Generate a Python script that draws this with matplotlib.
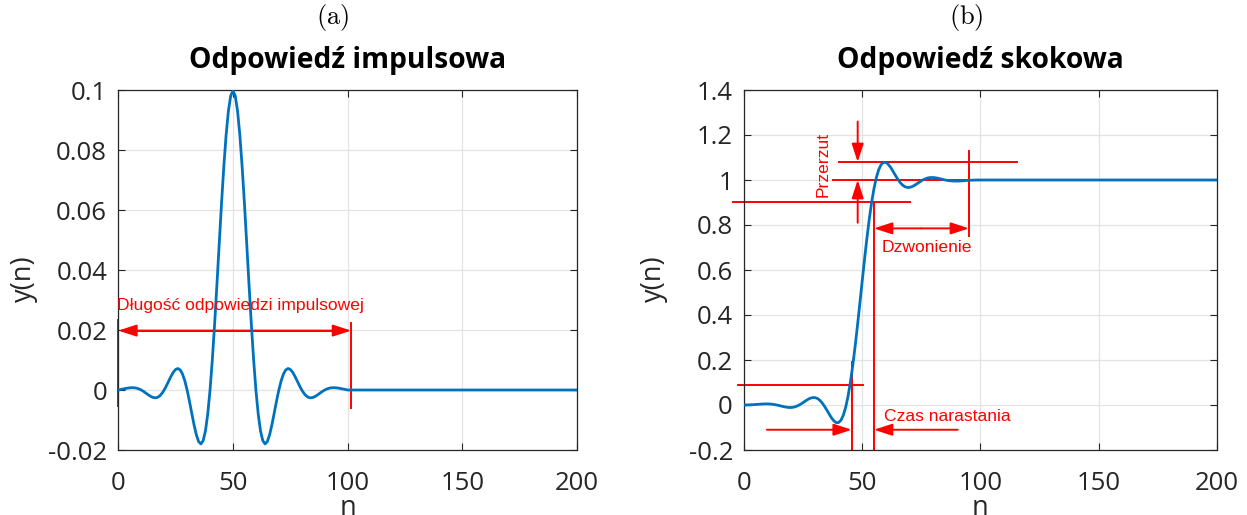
import matplotlib
matplotlib.use('Agg')
import matplotlib.pyplot as plt

# ---------------- data ----------------
n_vals = list(range(101)) + [200]

h_vals = [0, 0.00016, 0.00033, 0.00048, 0.00062, 0.00072, 0.00077, 0.00074, 0.00061, 0.00036,
          0, -0.00047, -0.00101, -0.00156, -0.00207, -0.00245, -0.00261, -0.00248, -0.00201, -0.00117,
          0, 0.00144, 0.00303, 0.00459, 0.00594, 0.00686, 0.00716, 0.00668, 0.00531, 0.00306,
          0, -0.00366, -0.00763, -0.01151, -0.01485, -0.01716, -0.01797, -0.01689, -0.01362, -0.00798,
          0, 0.01012, 0.02200, 0.03509, 0.04871, 0.06208, 0.07441, 0.08493, 0.09298, 0.09803,
          0.09976,
          0.09803, 0.09298, 0.08493, 0.07441, 0.06208, 0.04871, 0.03509, 0.02200, 0.01012, 0,
          -0.00798, -0.01362, -0.01689, -0.01797, -0.01716, -0.01485, -0.01151, -0.00763, -0.00366, 0,
          0.00306, 0.00531, 0.00668, 0.00716, 0.00686, 0.00594, 0.00459, 0.00303, 0.00144, 0,
          -0.00117, -0.00201, -0.00248, -0.00261, -0.00245, -0.00207, -0.00156, -0.00101, -0.00047, 0,
          0.00036, 0.00061, 0.00074, 0.00077, 0.00072, 0.00062, 0.00048, 0.00033, 0.00016, 0,
          0.0]

s_vals = [0, 0.00016, 0.00049, 0.00097, 0.00159, 0.00231, 0.00308, 0.00382, 0.00443, 0.00479,
          0.00479, 0.00432, 0.00331, 0.00175, -0.00032, -0.00277, -0.00538, -0.00786, -0.00987, -0.01104,
          -0.01104, -0.00960, -0.00657, -0.00198, 0.00396, 0.01082, 0.01798, 0.02466, 0.02997, 0.03303,
          0.03303, 0.02937, 0.02174, 0.01023, -0.00462, -0.02178, -0.03975, -0.05664, -0.07026, -0.07824,
          -0.07824, -0.06812, -0.04612, -0.01103, 0.03768, 0.09976, 0.17417, 0.25910, 0.35208, 0.45011,
          0.54987, 0.64790, 0.74088, 0.82581, 0.90022, 0.96230, 1.01101, 1.04610, 1.06810, 1.07822,
          1.07822, 1.07024, 1.05662, 1.03973, 1.02176, 1.00460, 0.98975, 0.97824, 0.97061, 0.96695,
          0.96695, 0.97001, 0.97532, 0.98200, 0.98916, 0.99602, 1.00196, 1.00655, 1.00958, 1.01102,
          1.01102, 1.00985, 1.00784, 1.00536, 1.00275, 1.00030, 0.99823, 0.99667, 0.99566, 0.99519,
          0.99519, 0.99555, 0.99616, 0.99690, 0.99767, 0.99839, 0.99901, 0.99949, 0.99982, 0.99998,
          1.00000,
          1.0]

x_ticks = [0, 50, 100, 150, 200]
y1_ticks = [-0.02, 0, 0.02, 0.04, 0.06, 0.08, 0.1]
y1_labels = ['-0.02', '0', '0.02', '0.04', '0.06', '0.08', '0.1']
y2_ticks = [-0.2, 0, 0.2, 0.4, 0.6, 0.8, 1, 1.2, 1.4]
y2_labels = ['-0.2', '0', '0.2', '0.4', '0.6', '0.8', '1', '1.2', '1.4']

captions = ['(a)', '(b)']
titles = ['Odpowiedź impulsowa', 'Odpowiedź skokowa']

# ---------------- style ----------------
plt.rcParams['font.family'] = ['Open Sans', 'DejaVu Sans']
plt.rcParams['mathtext.fontset'] = 'cm'

BLUE = '#0072BD'
RED = '#ff0000'
AX_COL = '#262626'
TICK_FS = 18.5
LAB_FS = 19.5
TITLE_FS = 20.3
ANN_FS = 12.6
ANN_FONT = ['Liberation Sans', 'DejaVu Sans']

fig = plt.figure(figsize=(12.47, 5.15), dpi=100)
W, H = 1247.0, 515.0
ax1 = fig.add_axes([118.3 / W, 65 / H, (577 - 118.3) / W, 360 / H])
ax2 = fig.add_axes([744 / W, 65 / H, (1216.7 - 744) / W, 360 / H])


def style(ax, yticks, ylabels, ylim, ylab_x):
    ax.set_xlim(0, 200)
    ax.set_ylim(*ylim)
    ax.set_xticks(x_ticks)
    ax.set_xticklabels([str(t) for t in x_ticks])
    ax.set_yticks(yticks)
    ax.set_yticklabels(ylabels)
    ax.grid(True, color='#e3e3e3', lw=0.9)
    ax.set_axisbelow(True)
    for sp in ax.spines.values():
        sp.set_color(AX_COL)
        sp.set_linewidth(0.9)
    ax.tick_params(direction='in', top=True, right=True, length=5, width=0.8,
                   colors=AX_COL, labelsize=TICK_FS)
    ax.tick_params(axis='x', pad=15)
    ax.tick_params(axis='y', pad=8)
    ax.set_xlabel('n', fontsize=LAB_FS, color=AX_COL, labelpad=-1.5)
    ax.set_ylabel('y(n)', fontsize=LAB_FS, color=AX_COL)
    ax.yaxis.set_label_coords(ylab_x, 0.475)


def arrow(ax, x0, y0, x1, y1, st='-|>'):
    ax.annotate('', xy=(x1, y1), xytext=(x0, y0), annotation_clip=False,
                arrowprops=dict(arrowstyle=st + ',head_length=0.55,head_width=0.18',
                                color=RED, lw=1.4, shrinkA=0, shrinkB=0,
                                mutation_scale=20), zorder=1)


def rline(ax, xs, ys):
    ax.plot(xs, ys, color=RED, lw=1.4, clip_on=False, zorder=1)


# ---------------- (a) impulse response ----------------
style(ax1, y1_ticks, y1_labels, (-0.02, 0.1), -0.175)
ax1.plot(n_vals, h_vals, color=BLUE, lw=2.0, zorder=3)
rline(ax1, [0, 0], [0.0233, -0.0053])
rline(ax1, [101.5, 101.5], [0.0224, -0.0061])
arrow(ax1, 50, 0.0198, 0, 0.0198)
arrow(ax1, 50, 0.0198, 101.5, 0.0198)
rline(ax1, [8, 94], [0.0198, 0.0198])
ax1.text(-0.5, 0.0283, 'Długość odpowiedzi impulsowej', color=RED, fontsize=ANN_FS,
         family=ANN_FONT, ha='left', va='center')

# ---------------- (b) step response ----------------
style(ax2, y2_ticks, y2_labels, (-0.2, 1.4), -0.161)
# overshoot
rline(ax2, [40.3, 115.7], [1.08, 1.08])
rline(ax2, [37.8, 126.5], [1.0, 1.0])
arrow(ax2, 48.1, 1.26, 48.1, 1.08)
arrow(ax2, 48.1, 0.81, 48.1, 1.0)
ax2.text(33.4, 1.07, 'Przerzut', color=RED, fontsize=ANN_FS, family=ANN_FONT,
         rotation=90, ha='center', va='center')
# ringing
rline(ax2, [-4.7, 70.2], [0.9, 0.9])
rline(ax2, [95.2, 95.2], [1.13, 0.75])
arrow(ax2, 75, 0.785, 55.0, 0.785)
arrow(ax2, 75, 0.785, 95.2, 0.785)
ax2.text(77.3, 0.70, 'Dzwonienie', color=RED, fontsize=ANN_FS, family=ANN_FONT,
         ha='center', va='center')
# rise time
rline(ax2, [55.0, 55.0], [0.9, -0.2])
rline(ax2, [45.6, 45.6], [0.19, -0.2])
rline(ax2, [-2.5, 50.2], [0.09, 0.09])
arrow(ax2, 9.7, -0.11, 45.6, -0.11)
arrow(ax2, 90.4, -0.11, 55.0, -0.11)
ax2.text(59.2, -0.05, 'Czas narastania', color=RED, fontsize=ANN_FS, family=ANN_FONT,
         ha='left', va='center')
ax2.plot(n_vals, s_vals, color=BLUE, lw=2.0, zorder=3)

# ---------------- titles ----------------
for ax, cap, tit, cx in [(ax1, captions[0], titles[0], 0.466), (ax2, captions[1], titles[1], 0.47)]:
    ax.text(cx, 1.2, r'$\mathrm{' + cap + '}$', transform=ax.transAxes, ha='center',
            va='center', fontsize=19, color='black')
    ax.text(0.5, 1.083, tit, transform=ax.transAxes, ha='center', va='center',
            fontsize=TITLE_FS, fontweight='bold', color='black')

fig.savefig('out.png', dpi=100)
